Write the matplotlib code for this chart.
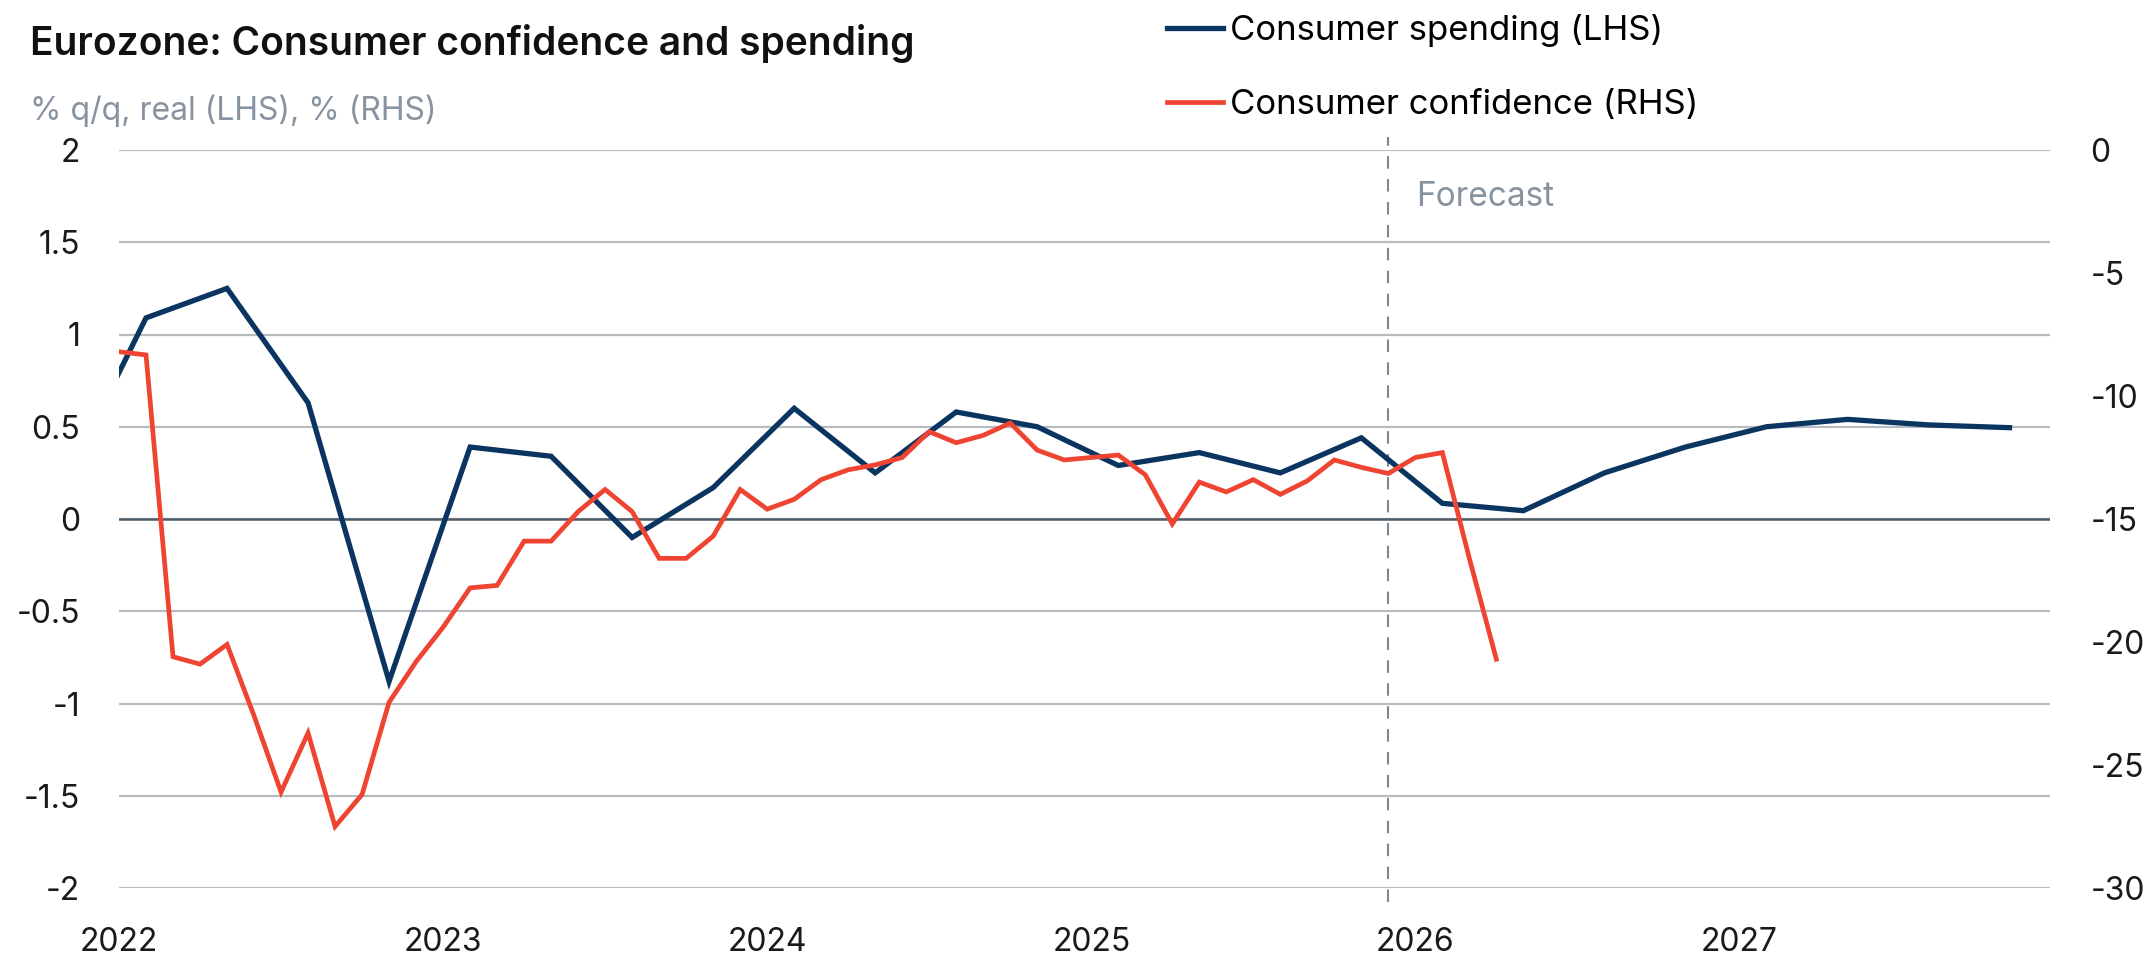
import numpy as np
import pandas as pd
import matplotlib
matplotlib.use('Agg')
import matplotlib.pyplot as plt
from matplotlib.ticker import FormatStrFormatter

plt.rcParams['font.family'] = ['Inter', 'DejaVu Sans']
plt.rcParams['axes.unicode_minus'] = False

# consumer spending, % q/q real, quarterly (LHS)
spend_quarters = pd.period_range('2021Q4', '2027Q4', freq='Q')
spending = [0.20, 1.09, 1.25, 0.63, -0.88, 0.39, 0.34, -0.10, 0.17,
            0.60, 0.25, 0.58, 0.50, 0.29, 0.36, 0.25, 0.44,
            0.085, 0.045, 0.25, 0.39, 0.50, 0.54, 0.51, 0.495]

# consumer confidence, monthly from Jan 2022 (RHS)
conf_months = pd.period_range('2022-01', periods=52, freq='M')
confidence = [-8.2, -8.33, -20.6, -20.9, -20.1, -23.0, -26.1, -23.7, -27.5, -26.2, -22.45, -20.8,
              -19.4, -17.8, -17.7, -15.9, -15.9, -14.7, -13.8, -14.7, -16.6, -16.6, -15.7, -13.8,
              -14.6, -14.2, -13.4, -13.0, -12.8, -12.5, -11.45, -11.9, -11.6, -11.1, -12.2, -12.6,
              -12.5, -12.4, -13.2, -15.2, -13.5, -13.9, -13.4, -14.0, -13.45, -12.6, -12.9, -13.15,
              -12.5, -12.3, -16.6, -20.7]

years = [2022, 2023, 2024, 2025, 2026, 2027]
forecast_start = pd.Period('2025-12', freq='M')
lhs_ticks = [-2, -1.5, -1, -0.5, 0, 0.5, 1, 1.5, 2]
rhs_ticks = [-30, -25, -20, -15, -10, -5, 0]

navy = '#0b3561'
red = '#ee4431'
grey_text = '#8793a0'
grid_c = '#b7bcc1'


def month_index(p):
    return (p.year - 2022) * 12 + p.month - 1


x_spend = [(q.year - 2022) * 12 + (q.quarter - 1) * 3 + 1 for q in spend_quarters]
x_conf = [month_index(p) for p in conf_months]

fig = plt.figure(figsize=(21.55, 9.6), dpi=100)
ax = fig.add_axes([119 / 2155, 1 - 888 / 960, (2050 - 119) / 2155, (888 - 150) / 960])
ax2 = ax.twinx()

ax.set_xlim(0, 71.5)
ax.set_ylim(-2, 2)
ax2.set_ylim(-30, 0)
ax.set_yticks(lhs_ticks)
ax2.set_yticks(rhs_ticks)
ax.yaxis.set_major_formatter(FormatStrFormatter('%g'))
ax2.yaxis.set_major_formatter(FormatStrFormatter('%g'))
ax.set_xticks([(y - 2022) * 12 for y in years])
ax.set_xticklabels([str(y) for y in years])

for a in (ax, ax2):
    for s in a.spines.values():
        s.set_visible(False)
    a.tick_params(length=0, labelsize=23, colors='#1a1a1a')
ax.tick_params(axis='y', pad=28)
ax2.tick_params(axis='y', pad=29)
ax.tick_params(axis='x', pad=28)

ax.yaxis.grid(True, color=grid_c, lw=1.6)
ax.set_axisbelow(True)
ax.axhline(0, color='#4f5d69', lw=1.8, zorder=1)

fx = month_index(forecast_start)
ax.axvline(fx, ymin=-0.019, ymax=1.018, color='#7d8893', lw=1.5, ls=(0, (6, 5)), clip_on=False, zorder=1)
ax.annotate('Forecast', xy=(fx, 1.745), xytext=(20, 0), textcoords='offset points',
            fontsize=24, color=grey_text, va='center', ha='left')

l1, = ax.plot(x_spend, spending, color=navy, lw=3.8, solid_joinstyle='miter', label='Consumer spending (LHS)')
l2, = ax2.plot(x_conf, confidence, color=red, lw=3.4, solid_joinstyle='miter', label='Consumer confidence (RHS)')

fig.text(30 / 2155, 1 - 55 / 960, 'Eurozone: Consumer confidence and spending',
         fontsize=28, fontweight='semibold', color='#111111', va='baseline')
fig.text(30 / 2155, 1 - 120 / 960, '% q/q, real (LHS), % (RHS)',
         fontsize=23, color=grey_text, va='baseline')

fig.legend(handles=[l1, l2], loc='upper left', bbox_to_anchor=(1167 / 2155, 1 - 14 / 960),
           frameon=False, fontsize=25, handlelength=1.6, handletextpad=0.2,
           labelspacing=1.2, borderpad=0, borderaxespad=0)

plt.savefig('out.png', dpi=100)
